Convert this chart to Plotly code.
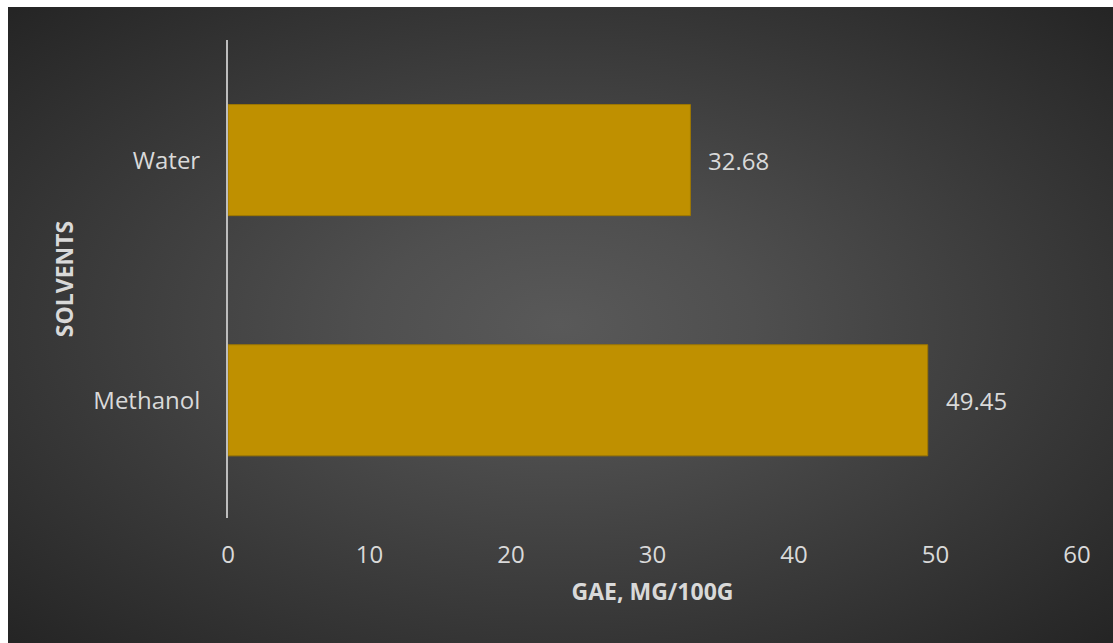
import base64
import plotly.graph_objects as go

# ---- data ----
categories = ["Methanol", "Water"]
values = [49.45, 32.68]
value_labels = ["49.45", "32.68"]
x_ticks = [0, 10, 20, 30, 40, 50, 60]

W, H = 1113, 643
ML, MR, MT, MB = 228, 36, 40, 125
PW, PH = W - ML - MR, H - MT - MB

# radial gradient background (dark panel)
svg = (
    "<svg xmlns='http://www.w3.org/2000/svg' width='1105' height='636' "
    "viewBox='0 0 1105 636' preserveAspectRatio='none'>"
    "<defs><radialGradient id='g' cx='0.5' cy='0.5' r='0.7'>"
    "<stop offset='0' stop-color='#595959'/>"
    "<stop offset='0.25' stop-color='#4f4f4f'/>"
    "<stop offset='1' stop-color='#252525'/>"
    "</radialGradient></defs>"
    "<rect x='0' y='0' width='1105' height='636' fill='url(#g)'/></svg>"
)
src = "data:image/svg+xml;base64," + base64.b64encode(svg.encode()).decode()

bx0, by0 = 8, 7
img = dict(
    source=src, xref="paper", yref="paper",
    x=(bx0 - ML) / PW, y=(H - MB - by0) / PH,
    sizex=(W - bx0) / PW, sizey=(H - by0) / PH,
    xanchor="left", yanchor="top", sizing="stretch", layer="below",
)

FONT = "Open Sans"
TXT = "#d9d9d9"

fig = go.Figure()
fig.add_trace(go.Bar(
    x=values, y=categories, orientation="h",
    marker=dict(color="#bf9000", line=dict(color="#9e7700", width=1)),
    hoverinfo="skip",
))

annotations = []
for c, v, t in zip(categories, values, value_labels):
    annotations.append(dict(
        x=v, y=c, xref="x", yref="y", text=t, showarrow=False,
        xanchor="left", yanchor="middle", xshift=16,
        font=dict(family=FONT, size=24, color=TXT),
    ))

fig.update_layout(
    width=W, height=H,
    margin=dict(l=ML, r=MR, t=MT, b=MB, pad=0),
    paper_bgcolor="white",
    plot_bgcolor="rgba(0,0,0,0)",
    images=[img],
    annotations=annotations,
    bargap=0.5375,
    showlegend=False,
    font=dict(family=FONT, size=24, color=TXT),
    xaxis=dict(
        range=[0, 60], tickvals=x_ticks, ticktext=[str(v) for v in x_ticks],
        showgrid=False, zeroline=False, showline=False, ticks="",
        tickfont=dict(family=FONT, size=24, color=TXT),
        ticklabelstandoff=20,
        title=dict(text="<b>GAE, MG/100G</b>", standoff=14,
                   font=dict(family=FONT, size=23, color=TXT)),
        fixedrange=True,
    ),
    yaxis=dict(
        showgrid=False, zeroline=False, showline=True,
        linecolor="#bdbdbd", linewidth=2, ticks="",
        tickfont=dict(family=FONT, size=24, color=TXT),
        ticklabelstandoff=21,
        title=dict(text="<b>SOLVENTS</b>", standoff=13,
                   font=dict(family=FONT, size=23, color=TXT)),
        range=[-0.49, 1.5],
        fixedrange=True,
    ),
)

fig.write_html("out.html", config={"displayModeBar": False})
